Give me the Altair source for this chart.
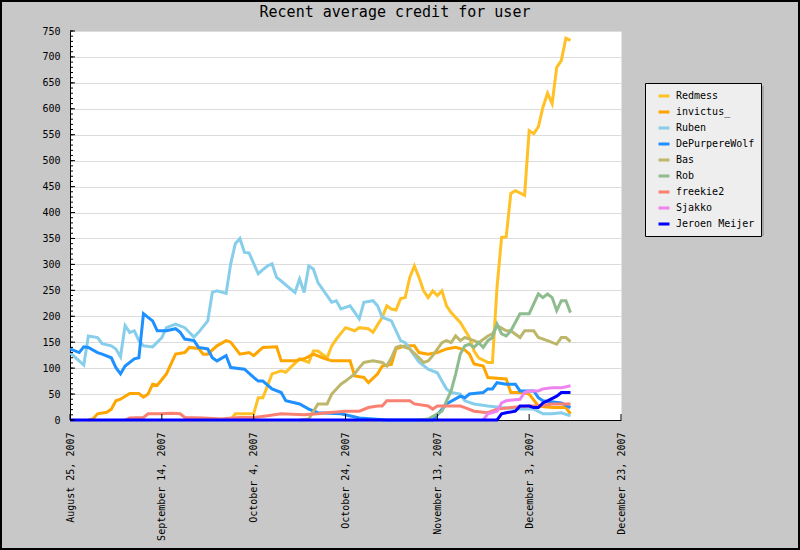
import altair as alt
import pandas as pd

START = pd.Timestamp("2007-08-25")

users = ["Redmess", "invictus_", "Ruben", "DePurpereWolf", "Bas", "Rob",
         "freekie2", "Sjakko", "Jeroen Meijer"]
colors = ["#FFC125", "#FFA500", "#87CEEB", "#1E90FF", "#BDB76B", "#8FBC8F",
          "#FA8072", "#EE82EE", "#0000FF"]

# day offsets from 2007-08-25 and recent average credit
redmess_day = [35, 36, 40, 41, 42, 44, 46, 47, 48, 50, 52, 53, 54, 56, 57, 58, 60, 62, 63, 65,
               66, 68, 69, 70, 71, 72, 73, 74, 75, 76, 77, 78, 79, 80, 81, 82, 83, 85, 87, 88,
               89, 91, 92, 93, 94, 95, 96, 97, 99, 100, 101, 102, 103, 104, 105, 106, 107,
               108, 109]
redmess_val = [0, 12, 12, 43, 43, 89, 95, 92, 101, 118, 111, 133, 133, 120, 143, 156, 178, 172,
               178, 176, 169, 198, 220, 214, 212, 234, 236, 275, 297, 275, 249, 236, 249, 240,
               249, 220, 207, 188, 159, 133, 120, 111, 111, 256, 352, 353, 437, 442, 433, 558,
               552, 565, 603, 630, 610, 680, 693, 736, 732]

invictus_day = [4, 5, 6, 8, 9, 10, 11, 13, 15, 16, 17, 18, 19, 21, 22, 23, 25, 26, 28, 29, 30,
                32, 34, 35, 37, 39, 40, 42, 45, 46, 49, 51, 53, 55, 57, 61, 62, 64, 65, 67, 68,
                70, 71, 73, 75, 76, 78, 80, 82, 84, 86, 87, 88, 90, 91, 95, 96, 98, 100, 102,
                105, 108, 109]
invictus_val = [0, 2, 12, 15, 21, 37, 40, 51, 51, 44, 50, 69, 67, 89, 108, 127, 130, 140, 138,
                127, 127, 143, 153, 150, 127, 130, 124, 140, 141, 114, 114, 118, 127, 120, 114,
                114, 85, 82, 72, 89, 104, 107, 137, 143, 143, 130, 127, 130, 137, 140, 135, 127,
                108, 104, 82, 79, 53, 53, 50, 27, 24, 24, 12]

ruben_day = [0, 3, 4, 6, 7, 9, 10, 11, 12, 13, 14, 15, 16, 18, 20, 21, 23, 25, 27, 28, 30, 31,
             32, 34, 35, 36, 37, 38, 39, 41, 42, 43, 44, 45, 46, 48, 49, 50, 51, 52, 53, 54, 57,
             58, 59, 61, 63, 64, 66, 67, 68, 70, 72, 73, 76, 78, 80, 81, 82, 83, 85, 86, 88, 91,
             94, 98, 101, 103, 105, 107, 109]
ruben_val = [130, 106, 162, 159, 147, 143, 137, 122, 182, 169, 172, 153, 143, 141, 159, 178, 185,
             178, 160, 169, 191, 246, 249, 244, 301, 340, 350, 323, 322, 282, 290, 297, 301, 275,
             268, 253, 246, 272, 246, 297, 291, 265, 227, 230, 214, 220, 195, 227, 230, 220, 198,
             191, 153, 149, 112, 98, 91, 75, 60, 53, 50, 37, 31, 27, 24, 21, 21, 12, 12, 14, 8]

wolf_day = [0, 2, 3, 4, 6, 7, 9, 10, 11, 12, 14, 15, 16, 17, 18, 19, 21, 23, 24, 25, 27, 28,
            30, 31, 32, 34, 35, 38, 40, 41, 42, 44, 46, 47, 50, 52, 54, 59, 63, 69, 79, 80, 82,
            85, 86, 87, 90, 91, 92, 93, 95, 97, 98, 101, 102, 103, 107, 109]
wolf_val = [137, 130, 141, 140, 130, 127, 120, 101, 89, 104, 118, 120, 205, 198, 191, 172, 172,
            176, 169, 156, 153, 140, 137, 120, 114, 124, 101, 98, 82, 75, 75, 60, 53, 37, 31,
            21, 14, 12, 4, 0, 0, 10, 31, 46, 43, 50, 53, 60, 60, 72, 69, 69, 56, 56, 43, 37,
            33, 24]

bas_day = [50, 52, 54, 56, 57, 59, 60, 62, 63, 64, 66, 68, 69, 70, 71, 72, 74, 76, 77, 78, 79,
           81, 82, 83, 84, 85, 86, 88, 89, 91, 92, 93, 95, 96, 98, 99, 101, 102, 104, 106, 107,
           108, 109]
bas_val = [0, 2, 31, 31, 50, 69, 75, 89, 101, 111, 114, 111, 104, 120, 140, 143, 137, 120, 111,
           114, 124, 149, 153, 149, 162, 153, 159, 153, 149, 162, 166, 182, 172, 172, 159, 172,
           172, 159, 153, 146, 159, 159, 151]

rob_day = [76, 78, 81, 83, 84, 85, 86, 87, 88, 89, 90, 91, 92, 93, 94, 95, 96, 98, 100, 102,
           103, 104, 105, 106, 107, 108, 109]
rob_val = [0, 2, 17, 56, 89, 127, 143, 146, 140, 149, 140, 153, 159, 185, 166, 162, 172, 205,
           205, 243, 236, 243, 236, 211, 230, 230, 207]

freekie_day = [12, 13, 16, 17, 20, 22, 24, 25, 29, 31, 33, 34, 37, 40, 41, 43, 46, 51, 54, 56,
               60, 63, 65, 67, 68, 69, 74, 75, 78, 79, 80, 85, 86, 88, 91, 93, 96, 100, 102,
               105, 109]
freekie_val = [0, 4, 5, 12, 12, 13, 12, 5, 4, 3, 2, 3, 5, 5, 6, 8, 12, 10, 12, 14, 17, 17, 24,
               27, 27, 37, 37, 31, 27, 21, 27, 27, 24, 17, 14, 21, 24, 27, 27, 31, 31]

sjakko_day = [90, 91, 93, 94, 95, 98, 99, 100, 102, 103, 105, 107, 109]
sjakko_val = [0, 12, 17, 33, 37, 40, 53, 56, 56, 60, 62, 62, 66]

jeroen_day = [0, 93, 94, 95, 97, 98, 100, 101, 102, 103, 104, 106, 107, 109]
jeroen_val = [0, 0, 12, 14, 17, 27, 27, 24, 24, 33, 37, 46, 53, 53]

series_days = [redmess_day, invictus_day, ruben_day, wolf_day, bas_day, rob_day,
               freekie_day, sjakko_day, jeroen_day]
series_vals = [redmess_val, invictus_val, ruben_val, wolf_val, bas_val, rob_val,
               freekie_val, sjakko_val, jeroen_val]

tick_dates = ["2007-08-25", "2007-09-14", "2007-10-04", "2007-10-24",
              "2007-11-13", "2007-12-03", "2007-12-23"]
y_labels = list(range(0, 751, 50))
y_minor = list(range(0, 751, 10))
title_text = "Recent average credit for user"

MONO = "DejaVu Sans Mono"
W, H = 551, 389


def dt(s):
    t = pd.Timestamp(s)
    return alt.DateTime(year=t.year, month=t.month, date=t.day)


x_scale = alt.Scale(domain=[dt(tick_dates[0]), dt(tick_dates[-1])])
y_scale = alt.Scale(domain=[0, 750], nice=False)
color_scale = alt.Scale(domain=users, range=colors)

x_axis = alt.Axis(values=[dt(d) for d in tick_dates], format="%B %-d, %Y",
                  labelAngle=270, labelAlign="right", labelBaseline="middle",
                  labelPadding=12, ticks=False, grid=False, domainColor="black",
                  labelFont=MONO, labelFontSize=10, labelColor="black", title=None,
                  labelOverlap=False)
y_axis = alt.Axis(values=y_labels, ticks=False, grid=True, gridColor="#DCDCDC",
                  labelPadding=10, domainColor="black", labelFont=MONO,
                  labelFontSize=10, labelColor="black", title=None)

legend = alt.Legend(orient="none", legendX=575, legendY=52, title=None,
                    fillColor="#EEEEEE", strokeColor="black", padding=6,
                    symbolType="stroke", symbolStrokeWidth=3, symbolSize=120,
                    symbolOffset=6, labelOffset=5, labelFont=MONO, labelFontSize=10,
                    labelColor="black", rowPadding=3, labelLimit=200)

one = alt.Data(values=[{}])

# decorations: outer frame, legend shadow, title
frame = alt.Chart(one).mark_rect(
    fillOpacity=0, stroke="black", strokeWidth=2
).encode(x=alt.value(-69), x2=alt.value(729), y=alt.value(-30), y2=alt.value(518))

shadow = alt.Chart(one).mark_rect(fill="#A8A8A8").encode(
    x=alt.value(578), x2=alt.value(694), y=alt.value(55), y2=alt.value(205))

title = alt.Chart(one).mark_text(
    text=title_text, font=MONO, fontSize=15, color="black",
    align="center", baseline="middle"
).encode(x=alt.value(325), y=alt.value(-19))

# inner ticks
ytick_minor = alt.Chart(pd.DataFrame({"v": y_minor})).mark_rule(
    color="black", strokeWidth=1).encode(
    y=alt.Y("v:Q", scale=y_scale, axis=y_axis), x=alt.value(0), x2=alt.value(3))
ytick_major = alt.Chart(pd.DataFrame({"v": y_labels})).mark_rule(
    color="black", strokeWidth=1).encode(
    y=alt.Y("v:Q", scale=y_scale, axis=y_axis), x=alt.value(0), x2=alt.value(5))
xtick = alt.Chart(pd.DataFrame({"d": pd.to_datetime(tick_dates)})).mark_rule(
    color="black", strokeWidth=1).encode(
    x=alt.X("d:T", scale=x_scale, axis=x_axis), y=alt.value(H - 6), y2=alt.value(H))

layers = [shadow]
for name, days, vals in zip(users, series_days, series_vals):
    df = pd.DataFrame({
        "date": START + pd.to_timedelta(days, unit="D"),
        "credit": vals,
        "user": name,
    })
    layers.append(alt.Chart(df).mark_line(strokeWidth=3).encode(
        x=alt.X("date:T", scale=x_scale, axis=x_axis),
        y=alt.Y("credit:Q", scale=y_scale, axis=y_axis),
        color=alt.Color("user:N", scale=color_scale, legend=legend),
    ))

layers += [ytick_minor, ytick_major, xtick, frame, title]

chart = alt.layer(*layers).properties(
    width=W, height=H,
    autosize=alt.AutoSizeParams(type="none"),
    padding={"left": 70, "top": 31, "right": 179, "bottom": 130},
    background="#C8C8C8",
).configure_view(fill="white", strokeOpacity=0)

chart.save("out.html", embed_options={"renderer": "svg", "actions": False})
